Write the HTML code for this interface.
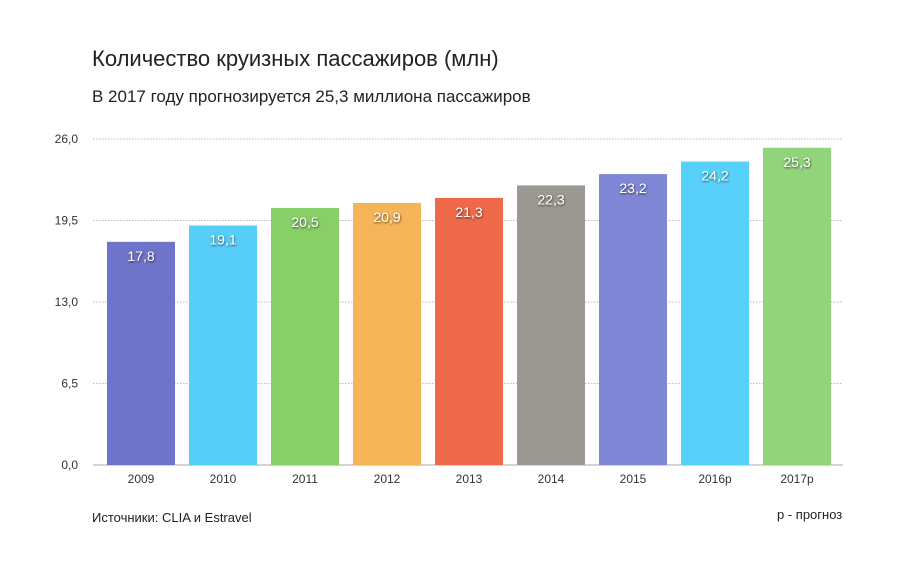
<!DOCTYPE html>
<html><head><meta charset="utf-8"><style>
body{margin:0;background:#fff;font-family:"Liberation Sans",sans-serif;}
svg{display:block}
</style></head><body>
<svg id="chart" width="913" height="563" xmlns="http://www.w3.org/2000/svg">
<text x="92" y="66" font-size="22" fill="#222">Количество круизных пассажиров (млн)</text>
<text x="92" y="102" font-size="17" fill="#222">В 2017 году прогнозируется 25,3 миллиона пассажиров</text>
<g id="grid"></g><g id="bars"></g><g id="xlabels"></g>
<text x="92" y="522" font-size="13" fill="#222">Источники: CLIA и Estravel</text>
<text x="777" y="519" font-size="13" fill="#222">р - прогноз</text>
</svg>
<script>
const categories=["2009","2010","2011","2012","2013","2014","2015","2016р","2017р"];
const values=[17.8,19.1,20.5,20.9,21.3,22.3,23.2,24.2,25.3];
const valueLabels=["17,8","19,1","20,5","20,9","21,3","22,3","23,2","24,2","25,3"];
const yTicks=[0,6.5,13,19.5,26];
const yTickLabels=["0,0","6,5","13,0","19,5","26,0"];
const colors=["#6f74cb","#57cdfa","#88cf68","#f5b457","#ee6a4b","#9b9991","#8087d6","#57d0fb","#92d47b"];
const NS="http://www.w3.org/2000/svg";
const y0=465,y1=139,ymax=26,x0=93,x1=843,step=82,bw=68,bx0=107;
const ys=v=>y0-(v/ymax)*(y0-y1);
const xs=i=>bx0+i*step;
function mk(t,a,p){const e=document.createElementNS(NS,t);for(const k in a)e.setAttribute(k,a[k]);p.appendChild(e);return e;}
const grid=document.getElementById('grid'),bars=document.getElementById('bars'),xl=document.getElementById('xlabels');
const defs=mk('defs',{},document.getElementById('chart'));
const f=mk('filter',{id:'sh',x:'-20%',y:'-20%',width:'140%',height:'160%'},defs);
mk('feDropShadow',{dx:'0.5',dy:'1',stdDeviation:'1','flood-color':'#000','flood-opacity':'0.7'},f);
yTicks.forEach((t,i)=>{
  const y=ys(t);
  const l=mk('line',{x1:x0,x2:x1,y1:y,y2:y,stroke:t===0?'#aaa':'#bbb','stroke-width':1,'stroke-dasharray':t===0?'':'1.5,1.5'},grid);
  
  
  const tx=mk('text',{x:78,y:y+4,'font-size':12,fill:'#333','text-anchor':'end'},grid);
  tx.textContent=yTickLabels[i];
  
  
});
values.forEach((v,i)=>{
  const r=mk('rect',{x:xs(i),y:ys(v),width:bw,height:y0-ys(v),fill:colors[i]},bars);
  
  
  const t=mk('text',{x:xs(i)+bw/2,y:ys(v)+19,'font-size':14,fill:'#fff','text-anchor':'middle',filter:'url(#sh)'},bars);
  t.textContent=valueLabels[i];
  
  
  const c=mk('text',{x:xs(i)+bw/2,y:483,'font-size':12,fill:'#333','text-anchor':'middle'},xl);
  c.textContent=categories[i];
  
  
});
</script>
</body></html>
